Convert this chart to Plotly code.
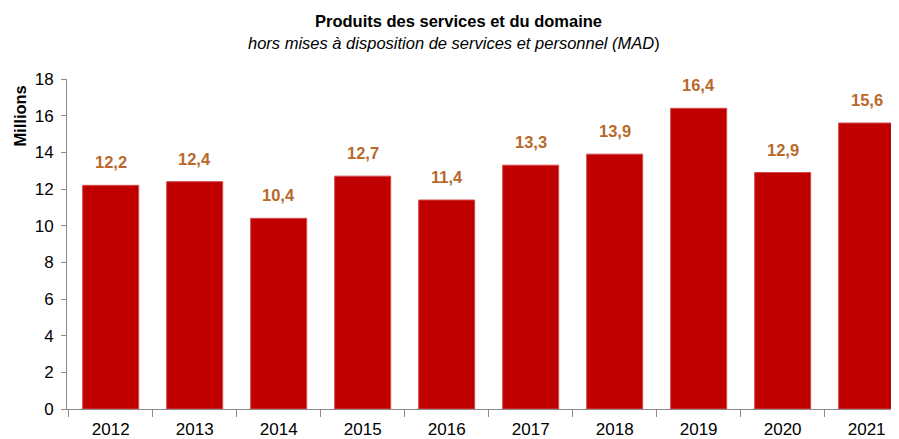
import plotly.graph_objects as go

years = ["2012", "2013", "2014", "2015", "2016", "2017", "2018", "2019", "2020", "2021"]
values = [12.2, 12.4, 10.4, 12.7, 11.4, 13.3, 13.9, 16.4, 12.9, 15.6]
labels = [f"{v:.1f}".replace(".", ",") for v in values]
y_ticks = list(range(0, 19, 2))

FONT = "Liberation Sans, Arial, sans-serif"

fig = go.Figure()
fig.add_trace(go.Bar(
    x=years, y=values,
    marker=dict(color="#C00000", line=dict(color="#D24A4A", width=1)),
    hoverinfo="skip",
))

for i, (v, lab) in enumerate(zip(values, labels)):
    fig.add_annotation(x=i, y=v, xref="x", yref="y", text=f"<b>{lab}</b>",
                       showarrow=False, yanchor="middle", yshift=23,
                       font=dict(family=FONT, size=16.5, color="#B8692B"))

fig.add_annotation(text="<b>Produits des services et du domaine</b>",
                   xref="paper", yref="paper", x=0.471, y=1, yshift=58,
                   xanchor="center", yanchor="middle", showarrow=False,
                   font=dict(family=FONT, size=16.5, color="#000"))
fig.add_annotation(text="<i>hors mises à disposition de services et personnel (MAD</i>)",
                   xref="paper", yref="paper", x=0.465, y=1, yshift=36,
                   xanchor="center", yanchor="middle", showarrow=False,
                   font=dict(family=FONT, size=16.5, color="#000"))
fig.add_annotation(text="<b>Millions</b>", textangle=-90,
                   xref="paper", yref="paper", x=0, xshift=-47, y=0.886,
                   xanchor="center", yanchor="middle", showarrow=False,
                   font=dict(family=FONT, size=16.5, color="#000"))

fig.update_layout(
    width=891, height=431,
    margin=dict(l=59, r=0, t=71, b=28),
    paper_bgcolor="white", plot_bgcolor="white",
    bargap=0.333, showlegend=False,
    font=dict(family=FONT, size=17, color="#000"),
    xaxis=dict(type="category", range=[-0.52, 9.385], showline=True,
               linecolor="#8C8C8C", linewidth=1, ticks="outside",
               tickson="boundaries", ticklen=7, tickcolor="#8C8C8C",
               showgrid=False, tickfont=dict(size=17), ticklabelstandoff=5),
    yaxis=dict(range=[0, 18], tickvals=y_ticks, showline=True,
               linecolor="#8C8C8C", linewidth=1, ticks="outside",
               ticklen=5, tickcolor="#8C8C8C", showgrid=False,
               zeroline=False, tickfont=dict(size=17), ticklabelstandoff=4),
)

fig.write_html("out.html")
